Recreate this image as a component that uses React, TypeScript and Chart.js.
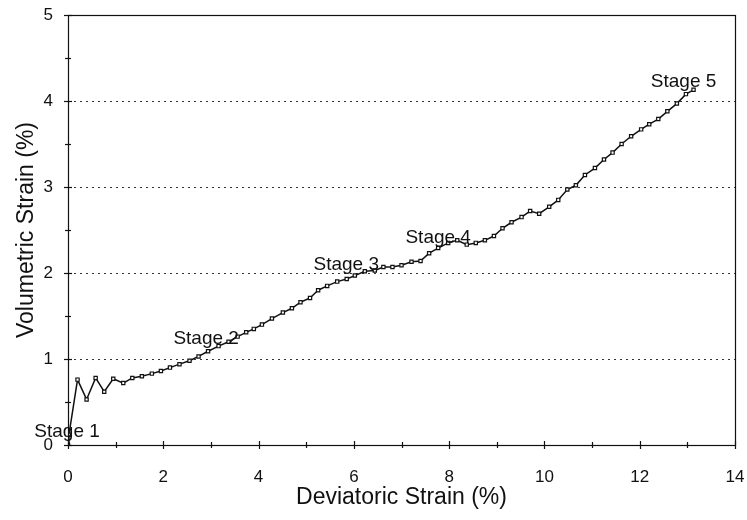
import { useEffect, useRef } from 'react';
import { Chart, registerables } from 'chart.js';

Chart.register(...registerables);

// Deviatoric strain (%) — x values
const deviatoricStrain = [
  0, 0.02, 0.2, 0.39, 0.58, 0.76, 0.95, 1.16, 1.35, 1.55, 1.76, 1.95, 2.14, 2.34, 2.55, 2.74,
  2.94, 3.16, 3.37, 3.56, 3.74, 3.9, 4.07, 4.28, 4.51, 4.7, 4.88, 5.08, 5.25, 5.44, 5.65, 5.85,
  6.02, 6.23, 6.44, 6.62, 6.81, 7.0, 7.21, 7.4, 7.58, 7.77, 7.98, 8.17, 8.37, 8.56, 8.75, 8.94,
  9.12, 9.31, 9.52, 9.7, 9.89, 10.1, 10.29, 10.48, 10.66, 10.85, 11.06, 11.25, 11.43, 11.62,
  11.82, 12.03, 12.2, 12.39, 12.58, 12.78, 12.97, 13.13,
];

// Volumetric strain (%) — y values
const volumetricStrain = [
  0, 0.12, 0.76, 0.53, 0.78, 0.62, 0.77, 0.72, 0.78, 0.8, 0.83, 0.86, 0.9, 0.94, 0.98, 1.03,
  1.09, 1.15, 1.2, 1.26, 1.31, 1.35, 1.4, 1.47, 1.54, 1.59, 1.66, 1.71, 1.8, 1.85, 1.9, 1.93,
  1.97, 2.02, 2.03, 2.07, 2.07, 2.09, 2.13, 2.14, 2.23, 2.29, 2.35, 2.38, 2.33, 2.35, 2.38, 2.43,
  2.52, 2.59, 2.65, 2.72, 2.69, 2.77, 2.85, 2.97, 3.02, 3.14, 3.22, 3.32, 3.4, 3.5,
  3.59, 3.67, 3.73, 3.79, 3.88, 3.97, 4.08, 4.13,
];

// Stage annotations (anchored in data coordinates)
const stageNames = ['Stage 1', 'Stage 2', 'Stage 3', 'Stage 4', 'Stage 5'];
const stageX = [-0.02, 2.9, 5.84, 7.77, 12.92];
const stageY = [0.15, 1.24, 2.09, 2.41, 4.22];

const xTickValues = [0, 2, 4, 6, 8, 10, 12, 14];
const yTickValues = [0, 1, 2, 3, 4, 5];
const yGridValues = [1, 2, 3, 4];

const FONT = '"Liberation Sans", Arial, sans-serif';
const INK = '#111';

const framePlugin = {
  id: 'frame',
  beforeDatasetsDraw(chart: any) {
    const { ctx, chartArea, scales } = chart;
    const { left, right } = chartArea;
    ctx.save();
    ctx.strokeStyle = '#333';
    ctx.lineWidth = 1;
    ctx.setLineDash([2, 4]);
    for (const v of yGridValues) {
      const py = Math.round(scales.y.getPixelForValue(v)) + 0.5;
      ctx.beginPath();
      ctx.moveTo(left, py);
      ctx.lineTo(right, py);
      ctx.stroke();
    }
    ctx.restore();
  },
  afterDraw(chart: any) {
    const { ctx, chartArea, scales } = chart;
    const { left, right, top, bottom } = chartArea;
    ctx.save();
    ctx.strokeStyle = INK;
    ctx.lineWidth = 1.2;
    ctx.setLineDash([]);
    ctx.strokeRect(Math.round(left) + 0.5, Math.round(top) + 0.5, Math.round(right - left), Math.round(bottom - top));
    // x ticks (major every 2, minor every 1)
    for (let v = 0; v <= 14; v += 1) {
      const px = Math.round(scales.x.getPixelForValue(v)) + 0.5;
      const len = v % 2 === 0 ? 4 : 3;
      ctx.beginPath();
      ctx.moveTo(px, bottom - len);
      ctx.lineTo(px, bottom + len);
      ctx.stroke();
    }
    // y ticks (major every 1, minor every 0.5)
    for (let v = 0; v <= 5; v += 0.5) {
      const py = Math.round(scales.y.getPixelForValue(v)) + 0.5;
      const len = Number.isInteger(v) ? 4 : 3;
      ctx.beginPath();
      ctx.moveTo(left - len, py);
      ctx.lineTo(left + len, py);
      ctx.stroke();
    }
    // stage labels
    ctx.fillStyle = INK;
    ctx.font = `19px ${FONT}`;
    ctx.textAlign = 'center';
    ctx.textBaseline = 'middle';
    stageNames.forEach((name, i) => {
      ctx.fillText(name, scales.x.getPixelForValue(stageX[i]), scales.y.getPixelForValue(stageY[i]));
    });
    ctx.restore();
  },
};

export default function App() {
  const canvasRef = useRef<HTMLCanvasElement>(null);

  useEffect(() => {
    document.body.style.margin = '0';
    const canvas = canvasRef.current;
    if (!canvas) return;
    const points = deviatoricStrain.map((x, i) => ({ x, y: volumetricStrain[i] }));
    const chart = new Chart(canvas, {
      type: 'line',
      data: {
        datasets: [
          {
            data: points,
            borderColor: INK,
            borderWidth: 1.5,
            backgroundColor: '#fff',
            pointStyle: 'rect',
            pointRadius: 2.3,
            pointBorderWidth: 1.2,
            pointBorderColor: INK,
            pointBackgroundColor: '#fff',
            tension: 0,
            fill: false,
          },
        ],
      },
      options: {
        responsive: false,
        animation: false,
        devicePixelRatio: 1,
        layout: { padding: { top: 15, right: 12, left: 0, bottom: 0 } },
        plugins: { legend: { display: false }, tooltip: { enabled: false } },
        scales: {
          x: {
            type: 'linear',
            min: 0,
            max: 14,
            afterFit: (s: any) => {
              s.height = 75;
              s.paddingLeft = 0;
              s.paddingRight = 0;
            },
            afterBuildTicks: (s: any) => {
              s.ticks = xTickValues.map((value) => ({ value }));
            },
            grid: { display: false, drawTicks: false },
            border: { display: false },
            ticks: { color: INK, font: { family: FONT, size: 17 }, padding: 22, maxRotation: 0 },
            title: {
              display: true,
              text: 'Deviatoric Strain (%)',
              color: INK,
              font: { family: FONT, size: 23 },
              padding: { top: 0, bottom: 9 },
            },
          },
          y: {
            type: 'linear',
            min: 0,
            max: 5,
            afterFit: (s: any) => {
              s.width = 68;
              s.paddingTop = 0;
              s.paddingBottom = 0;
            },
            afterBuildTicks: (s: any) => {
              s.ticks = yTickValues.map((value) => ({ value }));
            },
            grid: { display: false, drawTicks: false },
            border: { display: false },
            ticks: { color: INK, font: { family: FONT, size: 17 }, padding: 15 },
            title: {
              display: true,
              text: 'Volumetric Strain (%)',
              color: INK,
              font: { family: FONT, size: 23 },
              padding: { top: 13, bottom: 0 },
            },
          },
        },
      },
      plugins: [framePlugin],
    });
    return () => chart.destroy();
  }, []);

  return <canvas ref={canvasRef} width={747} height={520} />;
}
